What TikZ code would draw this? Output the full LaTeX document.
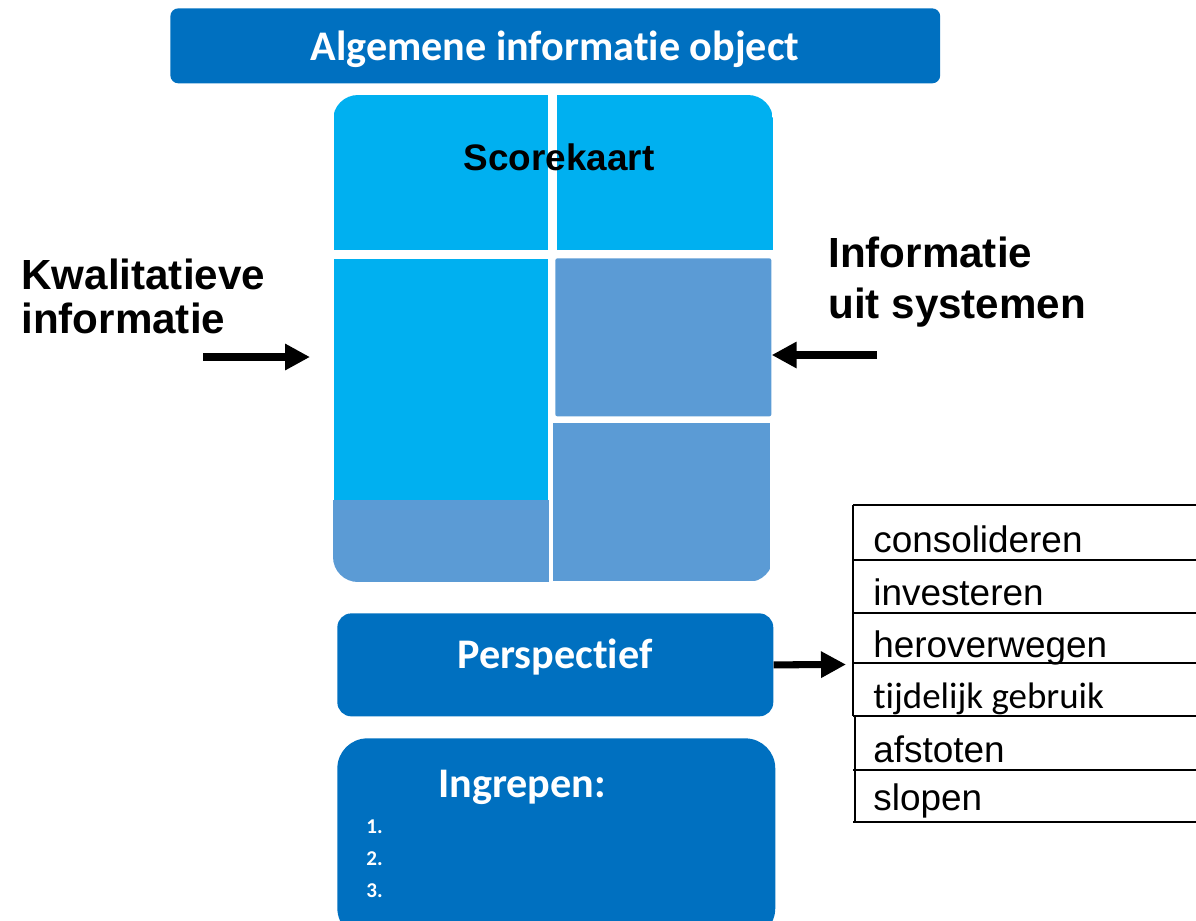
\documentclass[tikz,border=0pt]{standalone}
\usepackage{fontspec}
\setmainfont{Liberation Sans}
\newfontfamily\calibri[Ligatures={NoCommon,NoContextual}]{Carlito}
\usetikzlibrary{arrows.meta}
\definecolor{donkerblauw}{HTML}{0070C0}
\definecolor{lichtblauw}{HTML}{00B0F0}
\definecolor{grijsblauw}{HTML}{5B9BD5}

\begin{document}
\begin{tikzpicture}[x=0.02cm, y=-0.02cm,
  kader/.style={fill=donkerblauw, anchor=north west, inner sep=0pt},
  blok/.style={fill=#1, anchor=north west, inner sep=0pt},
  kop/.style={text=white, anchor=base, inner sep=0pt, font=\calibri\bfseries\fontsize{24}{29}\selectfont},
  zijtekst/.style={anchor=base west, align=left, inner sep=0pt, font=\bfseries\fontsize{24}{#1}\selectfont},
  rij/.style={anchor=base west, inner sep=0pt, font=\fontsize{21}{25}\selectfont},
  nummer/.style={text=white, anchor=base west, inner sep=0pt, font=\calibri\bfseries\fontsize{12}{14}\selectfont},
  pijl/.style={line width=4pt, -{Triangle[length=0.5cm, width=0.5cm]}}]
\useasboundingbox (0,0) rectangle (1196,920);
\clip (0,0) rectangle (1196,920);

\node[kader, rounded corners=0.16cm, minimum width=15.4cm, minimum height=1.5cm] (titel) at (170,8) {};
\node[kop] (titeltekst) at (555,60) {Algemene informatie object};

\begin{scope}
\clip[rounded corners=0.5cm] (333,95) rectangle (773,582);
\node[blok=lichtblauw, minimum width=4.28cm, minimum height=3.1cm] (linksboven) at (334,95) {};
\node[blok=lichtblauw, minimum width=4.32cm, minimum height=3.1cm] (rechtsboven) at (557,95) {};
\node[blok=lichtblauw, minimum width=4.28cm, minimum height=4.82cm] (linksmidden) at (334,259) {};
\node[blok=grijsblauw, minimum width=4.32cm, minimum height=1.64cm] (linksonder) at (333,500) {};
\node[blok=grijsblauw, rounded corners=0.04cm, minimum width=4.32cm, minimum height=3.16cm] (rechtsmidden) at (555,258) {};
\node[blok=grijsblauw, minimum width=4.34cm, minimum height=3.16cm] (rechtsonder) at (553,423) {};
\end{scope}
\node[anchor=base, inner sep=0pt, font=\bfseries\fontsize{21}{25}\selectfont] (scorekaart) at (559,170) {Scorekaart};

\node[zijtekst=25] (kwalitatief) at (21,333) {Kwalitatieve\\informatie};
\node[zijtekst=29] (systemen) at (828,318) {Informatie\\uit systemen};
\coordinate (kwalbegin) at (203,357);
\draw[pijl, shorten >=0.48cm] (kwalbegin) -- (kwalbegin -| linksmidden.west);
\coordinate (systemenbegin) at (877,355);
\draw[pijl] (systemenbegin) -- (systemenbegin -| rechtsmidden.east);

\node[kader, rounded corners=0.28cm, minimum width=8.72cm, minimum height=2.06cm] (perspectief) at (337,613) {};
\node[kop] (perspectieftekst) at (555,668) {Perspectief};
\coordinate (lijstpunt) at (846,664.5);
\draw[pijl] (perspectief.east) -- (lijstpunt);

\node[kader, rounded corners=0.6cm, minimum width=8.76cm, minimum height=4cm] (ingrepen) at (337,738) {};
\node[kop] (ingrepentekst) at (522,797) {Ingrepen:};
\foreach \n/\y in {1/833, 2/865, 3/897}
  \node[nummer] (nummer\n) at (366,\y) {\n.};

\foreach \y in {505,560,613,663,716,770,822}
  \draw[line width=0.04cm] (853,\y) -- (1196,\y);
\draw[line width=0.04cm] (853,505) -- (853,716);
\draw[line width=0.04cm] (855,716) -- (855,822);
\foreach \tekst/\y [count=\i] in {consolideren/552, investeren/605, heroverwegen/657, {\calibri tijdelijk gebruik}/708, afstoten/762, slopen/810}
  \node[rij] (optie\i) at (873,\y) {\tekst};
\end{tikzpicture}
\end{document}
